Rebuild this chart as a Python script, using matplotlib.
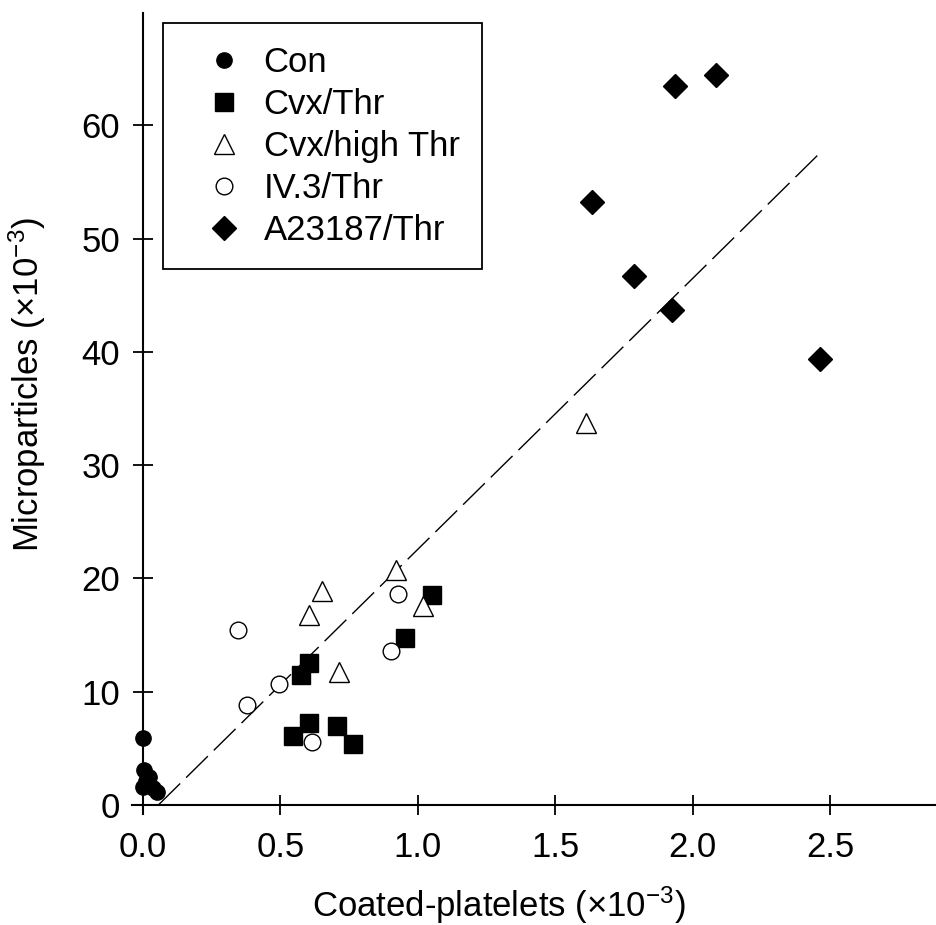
"""
Microparticles vs coated-platelets scatter with linear fit.
"""
import numpy as np
import matplotlib
matplotlib.use("Agg")
import matplotlib.pyplot as plt

plt.rcParams['font.family'] = ['Liberation Sans', 'DejaVu Sans']
plt.rcParams['mathtext.fontset'] = 'custom'
plt.rcParams['mathtext.rm'] = 'Liberation Sans'
plt.rcParams['mathtext.it'] = 'Liberation Sans:italic'

# values (x10^-3 units)
con_x = [0.0, 0.005, 0.02, 0.0, 0.01, 0.035, 0.05]
con_y = [5.9, 3.1, 2.5, 1.6, 2.1, 1.5, 1.1]

cvx_x = [0.605, 0.575, 0.605, 0.544, 0.707, 0.765, 0.953, 1.05]
cvx_y = [12.5, 11.5, 7.2, 6.1, 7.0, 5.4, 14.7, 18.5]

high_x = [0.653, 0.605, 0.922, 0.714, 1.017, 1.611]
high_y = [18.9, 16.8, 20.7, 11.7, 17.6, 33.7]

iv3_x = [0.344, 0.377, 0.495, 0.616, 0.902, 0.928]
iv3_y = [15.4, 8.8, 10.7, 5.6, 13.6, 18.6]

a23_x = [1.935, 2.084, 1.632, 1.785, 1.925, 2.465]
a23_y = [63.5, 64.4, 53.2, 46.7, 43.7, 39.4]

# fitted line end points
fit_x = [0.056, 2.465]
fit_y = [0.0, 57.6]

xticks = [0.0, 0.5, 1.0, 1.5, 2.0, 2.5]
yticks = [0, 10, 20, 30, 40, 50, 60]


def main():
    fig = plt.figure(figsize=(9.37, 9.25), dpi=100)
    ax = fig.add_axes([0.1409, 0.12, 0.8623, 0.867])

    ax.plot(fit_x, fit_y, color='black', lw=1.0, dashes=(22, 6))

    ax.plot(con_x, con_y, 'o', ms=11, mfc='black', mec='black',
            ls='none', label='Con')
    ax.plot(cvx_x, cvx_y, 's', ms=13, mfc='black', mec='black',
            ls='none', label='Cvx/Thr')
    ax.plot(high_x, high_y, '^', ms=14, mfc='white', mec='black', mew=1.0,
            ls='none', label='Cvx/high Thr')
    ax.plot(iv3_x, iv3_y, 'o', ms=12, mfc='white', mec='black', mew=1.0,
            ls='none', label='IV.3/Thr')
    ax.plot(a23_x, a23_y, 'D', ms=12, mfc='black', mec='black',
            ls='none', label='A23187/Thr')

    ax.set_xlim(-0.04, 2.9)
    ax.set_ylim(-0.8, 70)

    ax.spines['right'].set_visible(False)
    ax.spines['top'].set_visible(False)
    ax.spines['left'].set_position(('data', 0))
    ax.spines['bottom'].set_position(('data', 0))
    ax.spines['left'].set_bounds(-0.8, 69.9)
    for s in ('left', 'bottom'):
        ax.spines[s].set_linewidth(1.5)

    ax.set_xticks(xticks)
    ax.set_xticklabels(['%.1f' % v for v in xticks])
    ax.set_yticks(yticks)
    ax.tick_params(direction='inout', length=15, width=1.3, labelsize=25)
    ax.tick_params(axis='x', pad=11)
    ax.tick_params(axis='y', pad=9)

    ax.set_xlabel(r'Coated-platelets ($\times$10$^{-3}$)', fontsize=25)
    ax.set_ylabel(r'Microparticles ($\times$10$^{-3}$)', fontsize=25)
    ax.xaxis.set_label_coords(0.454, -0.0885)
    ax.yaxis.set_label_coords(-0.104, 0.535)

    leg = ax.legend(loc='upper left', bbox_to_anchor=(0.174, 0.975),
                    bbox_transform=fig.transFigure, borderaxespad=0,
                    fontsize=25, numpoints=1, handlelength=2.2,
                    handletextpad=0.05, labelspacing=0.26, borderpad=0.65,
                    fancybox=False, framealpha=1)
    leg.get_frame().set_edgecolor('black')
    leg.get_frame().set_linewidth(1.3)

    fig.savefig('out.png', dpi=100)


if __name__ == "__main__":
    main()
